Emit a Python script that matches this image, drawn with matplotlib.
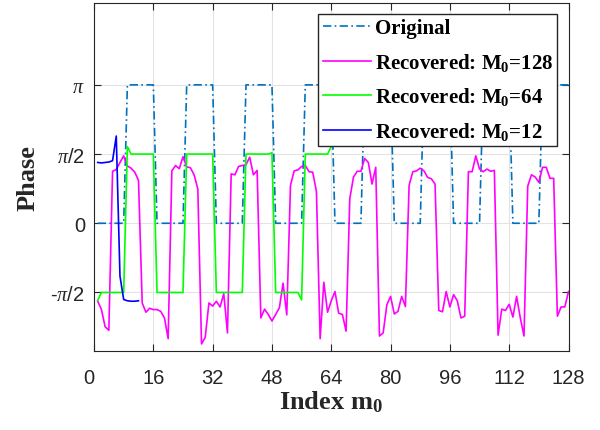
import numpy as np
import matplotlib
matplotlib.use("Agg")
import matplotlib.pyplot as plt
from matplotlib.transforms import ScaledTranslation

plt.rcParams['mathtext.fontset'] = 'custom'
plt.rcParams['mathtext.rm'] = 'Liberation Serif'
plt.rcParams['mathtext.it'] = 'Liberation Serif:italic'
plt.rcParams['mathtext.bf'] = 'Liberation Serif:bold'

# original phase pattern, in units of pi (indices 1..128)
original_pi = [0, 0, 0, 0, 0, 0, 0, 0, 1, 1, 1, 1, 1, 1, 1, 1,
               0, 0, 0, 0, 0, 0, 0, 0, 1, 1, 1, 1, 1, 1, 1, 1,
               0, 0, 0, 0, 0, 0, 0, 0, 1, 1, 1, 1, 1, 1, 1, 1,
               0, 0, 0, 0, 0, 0, 0, 0, 1, 1, 1, 1, 1, 1, 1, 1,
               0, 0, 0, 0, 0, 0, 0, 0, 1, 1, 1, 1, 1, 1, 1, 1,
               0, 0, 0, 0, 0, 0, 0, 0, 1, 1, 1, 1, 1, 1, 1, 1,
               0, 0, 0, 0, 0, 0, 0, 0, 1, 1, 1, 1, 1, 1, 1, 1,
               0, 0, 0, 0, 0, 0, 0, 0, 1, 1, 1, 1, 1, 1, 1, 1]

rec128 = [-1.77, -1.96, -2.35, -2.43, 1.18, 1.22, 1.38, 1.53,
          1.30, 1.25, 1.16, 0.97, -1.81, -2.02, -1.93, -1.96,
          -1.96, -2.00, -2.15, -2.62, 1.19, 1.31, 1.24, 1.51,
          1.28, 1.26, 1.10, 0.78, -2.74, -2.59, -1.81, -1.88,
          -1.77, -1.90, -1.60, -2.49, 1.12, 1.10, 1.29, 1.31,
          1.33, 1.50, 1.10, 1.20, -2.15, -1.95, -2.07, -2.22,
          -2.07, -1.92, -1.36, -2.08, 0.86, 1.19, 1.21, 1.29,
          1.31, 1.17, 1.16, 0.72, -2.62, -1.34, -2.02, -1.76,
          -1.55, -2.04, -2.07, -2.45, 0.56, 1.05, 1.18, 1.18,
          1.47, 1.38, 0.89, 1.27, -2.56, -2.49, -1.85, -1.66,
          -2.06, -2.00, -1.66, -1.89, 0.86, 1.17, 1.19, 1.25,
          1.19, 1.04, 1.01, 0.89, -1.98, -2.01, -1.55, -1.90,
          -1.62, -1.76, -2.15, -2.11, 1.17, 1.17, 1.53, 1.23,
          1.17, 1.23, 1.18, 1.20, -2.54, -1.95, -1.98, -1.84,
          -2.13, -1.66, -2.15, -2.56, 0.84, 1.10, 1.05, 0.93,
          1.27, 1.27, 1.02, 1.02, -2.11, -1.90, -1.90, -1.55]

rec64 = [-1.75, -1.571, -1.571, -1.571, -1.571, -1.571, -1.571, -1.571,
         1.74, 1.571, 1.571, 1.571, 1.571, 1.571, 1.571, 1.571,
         -1.571, -1.571, -1.571, -1.571, -1.571, -1.571, -1.571, -1.571,
         1.571, 1.571, 1.571, 1.571, 1.571, 1.571, 1.571, 1.571,
         -1.571, -1.571, -1.571, -1.571, -1.571, -1.571, -1.571, -1.571,
         1.571, 1.571, 1.571, 1.571, 1.571, 1.571, 1.571, 1.60,
         -1.571, -1.571, -1.571, -1.571, -1.571, -1.571, -1.571, -1.74,
         1.571, 1.571, 1.571, 1.571, 1.571, 1.571, 1.571, 1.74]

rec12 = [1.38, 1.37, 1.38, 1.39, 1.42, 1.98, -1.20, -1.73,
         -1.76, -1.77, -1.77, -1.76]

xticks = [0, 16, 32, 48, 64, 80, 96, 112, 128]
yticks = [-np.pi / 2, 0, np.pi / 2, np.pi]
yticklabels = [r'-$\pi$/2', '0', r'$\pi$/2', r'$\pi$']

dark = '#262626'

fig = plt.figure(figsize=(6, 4.31), dpi=100)
ax = fig.add_axes([0.1567, 0.1833, 0.7908, 0.8074])

ax.plot(np.arange(1, 129), np.pi * np.array(original_pi), color='#0072BD',
        lw=1.2, linestyle=(0, (5, 2, 1, 2)), label='Original')
ax.plot(np.arange(1, 129), rec128, color='#FF00FF', lw=1.2,
        label=r'Recovered: M$_\mathbf{0}$=128')
ax.plot(np.arange(1, 65), rec64, color='#00FF00', lw=1.2,
        label=r'Recovered: M$_\mathbf{0}$=64')
ax.plot(np.arange(1, 13), rec12, color='#0000FF', lw=1.2,
        label=r'Recovered: M$_\mathbf{0}$=12')

ax.set_xlim(0, 128)
ax.set_ylim(-2.9, 5.0)
ax.set_xticks(xticks)
ax.set_yticks(yticks)
ax.set_yticklabels(yticklabels)
ax.grid(True, color='#e3e3e3', lw=0.8)
ax.set_axisbelow(True)
ax.tick_params(direction='in', length=5, width=0.8, colors=dark,
               top=True, right=True, labelsize=14.5)
ax.tick_params(axis='x', pad=12.5)
ax.tick_params(axis='y', pad=6.5)
for lab in ax.get_xticklabels() + ax.get_yticklabels():
    lab.set_fontfamily('Liberation Sans')
# first x label sits a little left of its tick
first = ax.get_xticklabels()[0]
first.set_transform(first.get_transform() + ScaledTranslation(-5 / 100, 0, fig.dpi_scale_trans))
for sp in ax.spines.values():
    sp.set_color(dark)
    sp.set_linewidth(0.8)

ax.set_xlabel(r'Index m$_\mathbf{0}$', fontsize=19, fontweight='bold',
              fontfamily='Liberation Serif', color=dark, labelpad=1)
ax.set_ylabel('Phase', fontsize=19, fontweight='bold',
              fontfamily='Liberation Serif', color=dark, labelpad=8)

leg = ax.legend(loc='upper right', bbox_to_anchor=(0.976, 0.968),
                borderaxespad=0, fancybox=False, framealpha=1,
                edgecolor=dark, handlelength=2.3, handletextpad=0.2,
                borderpad=0.2, labelspacing=0.6,
                prop={'family': 'Liberation Serif', 'weight': 'bold', 'size': 15})
leg.get_frame().set_linewidth(1.0)

fig.savefig('out.png', dpi=100)
